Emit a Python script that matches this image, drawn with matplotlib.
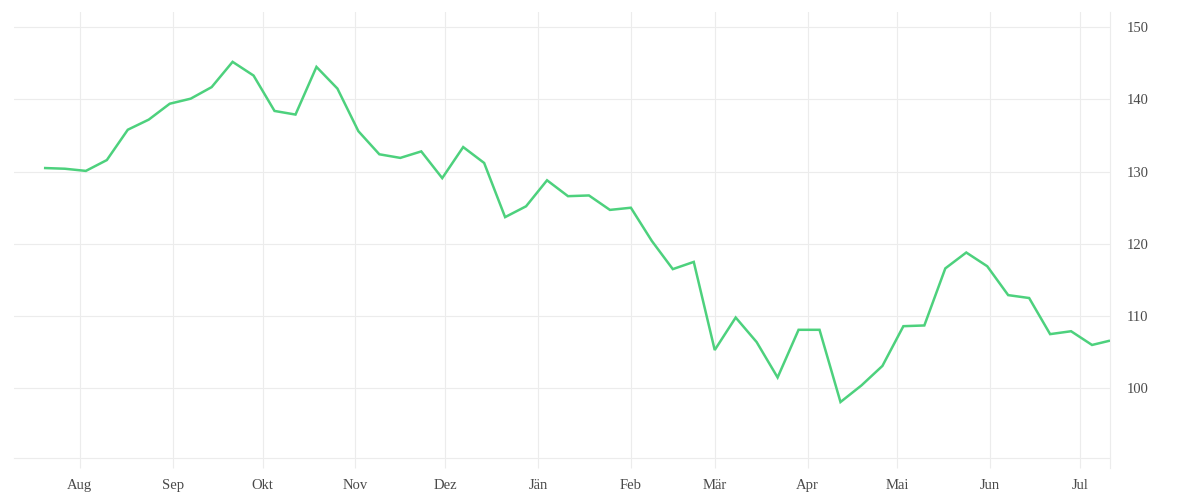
import matplotlib
matplotlib.use("Agg")
import matplotlib.pyplot as plt
import matplotlib.dates as mdates
import pandas as pd
import numpy as np

# ---- data ----
weekly_start = "2022-07-20"
last_date = "2023-07-11"
values = [130.5, 130.4, 130.1, 131.6, 135.8, 137.2, 139.4, 140.1, 141.7, 145.2,
          143.3, 138.4, 137.9, 144.5, 141.5, 135.6, 132.4, 131.9, 132.8, 129.1,
          133.4, 131.2, 123.7, 125.2, 128.8, 126.6, 126.7, 124.7, 125.0, 120.4,
          116.5, 117.5, 105.3, 109.8, 106.4, 101.5, 108.1, 108.1, 98.1, 100.4,
          103.1, 108.6, 108.7, 116.6, 118.8, 116.9, 112.9, 112.5, 107.5, 107.9,
          106.0, 106.6]
month_ticks = ["2022-08-01", "2022-09-01", "2022-10-01", "2022-11-01", "2022-12-01",
               "2023-01-01", "2023-02-01", "2023-03-01", "2023-04-01", "2023-05-01",
               "2023-06-01", "2023-07-01"]
month_labels = ["Aug", "Sep", "Okt", "Nov", "Dez", "Jän", "Feb", "Mär", "Apr",
                "Mai", "Jun", "Jul"]
y_ticks = [100, 110, 120, 130, 140, 150]

dates = list(pd.date_range(weekly_start, periods=len(values) - 1, freq="7D"))
dates.append(pd.Timestamp(last_date))

grid_c = "#ececec"
text_c = "#4a4a4a"
line_c = "#4dd17d"

plt.rcParams["font.family"] = ["Liberation Serif", "DejaVu Serif"]

fig = plt.figure(figsize=(12, 5), dpi=100)
ax = fig.add_axes([14 / 1200, 42 / 500, (1110 - 14) / 1200, (458 - 12) / 500])

ax.plot(dates, values, color=line_c, linewidth=1.8, solid_joinstyle="miter",
        solid_capstyle="butt", zorder=3)

ax.set_xlim(pd.Timestamp("2022-07-10"), pd.Timestamp(last_date))
ax.set_ylim(90.35, 152.1)

ax.set_xticks([pd.Timestamp(d) for d in month_ticks])
ax.set_xticklabels(month_labels)
ax.set_yticks(y_ticks)
ax.set_yticklabels([str(v) for v in y_ticks])

ax.yaxis.tick_right()
ax.tick_params(axis="y", length=0, pad=12, labelsize=10.5, labelcolor=text_c)
ax.tick_params(axis="x", length=7.2, width=0.8, color=grid_c, pad=8,
               labelsize=10.5, labelcolor=text_c)
for lbl in ax.get_xticklabels():
    lbl.set_x(lbl.get_position()[0])

ax.grid(True, color=grid_c, linewidth=0.8)
ax.set_axisbelow(True)
for s in ["top", "left"]:
    ax.spines[s].set_visible(False)
ax.spines["bottom"].set_color(grid_c)
ax.spines["bottom"].set_linewidth(0.8)
ax.spines["right"].set_visible(False)
# right boundary line extending like a tick
ax.plot([1, 1], [-10 / 446, 1], transform=ax.transAxes, color=grid_c,
        linewidth=0.8, clip_on=False, zorder=1)

fig.savefig("out.png", dpi=100, facecolor="white")
